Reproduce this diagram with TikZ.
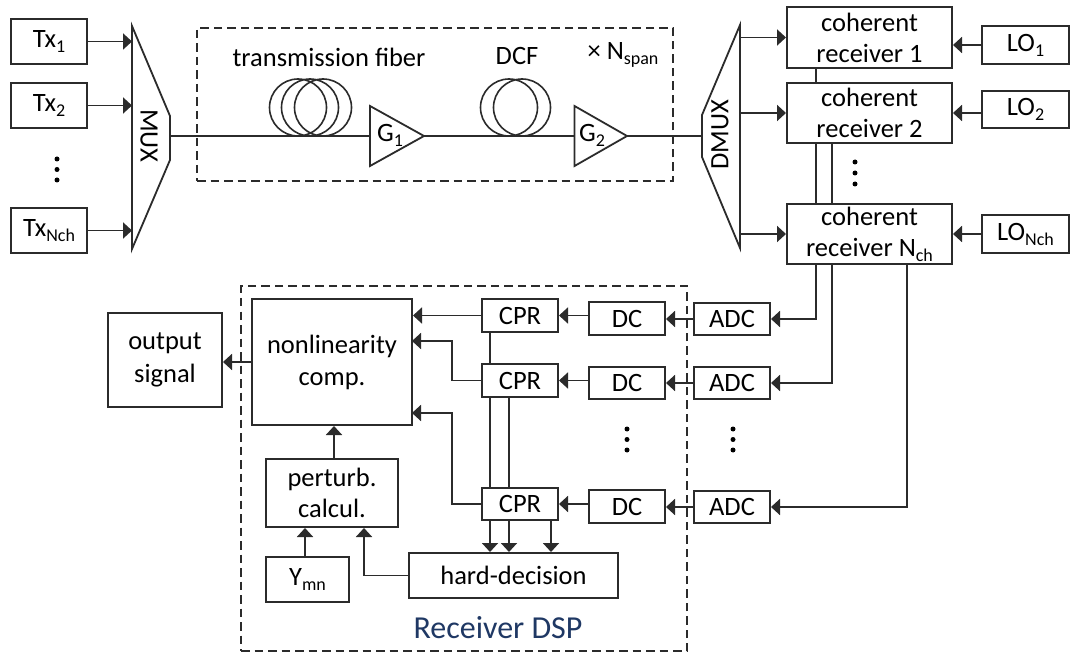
\documentclass[tikz,border=0pt]{standalone}
\usepackage{fontspec}
\setmainfont{Carlito}
\usetikzlibrary{arrows.meta}
\definecolor{ink}{HTML}{2B2B2B}
\definecolor{dspblue}{HTML}{1F3864}
\newcommand\sbs[1]{\raisebox{-5pt}{\fontsize{18}{18}\selectfont #1}}
\newcommand\bx[6]{\node[blockbox,minimum width={(#4-#2)*1pt},minimum height={(#5-#3)*1pt}] (#1) at ({(#2+#4)/2},{(#3+#5)/2}) {#6};}
\newcommand\vdotsat[3]{\fill[black] (#1,#2) circle (2.5) (#1,{(#2+#3)/2}) circle (2.5) (#1,#3) circle (2.5);}
\tikzset{
  blockbox/.style={draw=ink,line width=2pt,inner sep=0pt,align=center,fill=white,
    font=\fontsize{26.5}{31}\selectfont},
  lbl/.style={inner sep=0pt,align=center,font=\fontsize{26.5}{31}\selectfont},
  wire/.style={draw=ink,line width=1.9pt},
  arr/.style={wire,-{Triangle[length=9pt,width=16pt]}},
  shapeline/.style={draw=ink,line width=1.8pt,line join=miter},
  dashbox/.style={draw=ink,line width=1.3pt,dash pattern=on 8.5pt off 5pt},
}
\begin{document}
\begin{tikzpicture}[x=1pt,y=-1pt]
\useasboundingbox[fill=white] (0,0) rectangle (1070,652);
% dashed frames
\node[dashbox,minimum width=476pt,minimum height=153pt,inner sep=0pt] (spanframe) at (435,104.5) {};
\node[dashbox,minimum width=446pt,minimum height=365pt,inner sep=0pt] (dspframe) at (464,468.5) {};
% named anchors
\coordinate (muxW) at (132,136);
\coordinate (muxE) at (170,136);
\coordinate (dmuxW) at (702,136);
\coordinate (dmuxE) at (740,136);
\coordinate (tapA) at (816,0);
\coordinate (tapB) at (832,0);
\coordinate (tapC) at (907,0);
\coordinate (cprA) at (490,0);
\coordinate (cprB) at (509,0);
\coordinate (cprC) at (551,0);
\coordinate (busX) at (452,0);
\coordinate (pertA) at (334,0);
\coordinate (pertB) at (305,0);
\coordinate (pertC) at (364,0);
% transmitters
\bx{tx1}{11}{19}{87}{64}{Tx\sbs{1}}
\bx{tx2}{11}{83}{87}{128}{Tx\sbs{2}}
\bx{txn}{11}{208}{87}{253}{Tx\sbs{Nch}}
\vdotsat{57}{159}{180}
% mux
\draw[shapeline] (132,26) -- (170,116) -- (170,160) -- (132,249) -- cycle;
\node[lbl,rotate=-90] (muxl) at (149,136) {MUX};
% dmux
\draw[shapeline] (740,25) -- (702,115) -- (702,157) -- (740,248) -- cycle;
\node[lbl,rotate=90] (dmuxl) at (720,135) {DMUX};
% amplifiers
\node[inner sep=0pt,minimum size=0pt] (g1in) at (370,136) {};
\node[inner sep=0pt,minimum size=0pt] (g1out) at (424,136) {};
\node[inner sep=0pt,minimum size=0pt] (g2in) at (574.5,136) {};
\node[inner sep=0pt,minimum size=0pt] (g2out) at (627,136) {};
\draw[wire] (muxE) -- (g1in);
\draw[wire] (g1out) -- (g2in);
\draw[wire] (g2out) -- (dmuxW);
\draw[shapeline] (370,106) -- (424,136) -- (370,166) -- cycle;
\draw[shapeline] (574.5,106) -- (627,136) -- (574.5,166) -- cycle;
\node[lbl] (g1) at (390,135) {G\sbs{1}};
\node[lbl] (g2) at (592,135) {G\sbs{2}};
% fibre coils
\draw[draw=ink,line width=1.6pt] (298,107.5) circle (28.5) (310,107.5) circle (28.5) (323,107.5) circle (28.5);
\draw[draw=ink,line width=1.6pt] (509,107.5) circle (28.5) (522,107.5) circle (28.5);
\node[lbl] (fiberl) at (329,57) {transmission fiber};
\node[lbl] (dcfl) at (517,56) {DCF};
\node[lbl] (nspan) at (623,55) {× N\sbs{span}};
% receivers
\bx{rec1}{787}{7}{952}{68}{coherent\\receiver 1}
\bx{rec2}{787}{83}{952}{143}{coherent\\receiver 2}
\bx{rec3}{787}{204}{952}{264}{coherent\\receiver N\sbs{ch}}
\bx{lo1}{982}{26}{1069}{64}{LO\sbs{1}}
\bx{lo2}{982}{91}{1069}{128}{LO\sbs{2}}
\bx{lo3}{982}{215}{1069}{253}{LO\sbs{Nch}}
\vdotsat{855}{162}{184}
% DSP row
\bx{adc1}{694}{303}{770}{335}{ADC}
\bx{adc2}{694}{367}{770}{399}{ADC}
\bx{adc3}{694}{491}{770}{523}{ADC}
\bx{dc1}{589}{302}{665}{335}{DC}
\bx{dc2}{589}{367}{665}{399}{DC}
\bx{dc3}{589}{490}{665}{523}{DC}
\bx{cpr1}{482}{299}{558}{332}{CPR}
\bx{cpr2}{482}{364}{558}{397}{CPR}
\bx{cpr3}{482}{488}{558}{520}{CPR}
\vdotsat{627}{429}{450}
\vdotsat{733}{429}{450}
\bx{hard}{409}{553}{618}{598}{hard-decision}
\bx{nl}{252}{299}{412}{425}{nonlinearity\\[1pt]comp.}
\bx{out}{108}{313}{222}{407}{output\\[2pt]signal}
\bx{pert}{266}{459}{398}{527}{perturb.\\calcul.}
\bx{ymn}{266}{557}{349}{602}{Y\sbs{mn}}
\node[lbl,text=dspblue,font=\fontsize{32}{34}\selectfont] (dspl) at (498,628) {Receiver DSP};
% transmit arrows
\draw[arr] (tx1.east) -- (tx1.east -| muxW);
\draw[arr] (tx2.east) -- (tx2.east -| muxW);
\draw[arr] (txn.east) -- (txn.east -| muxW);
% to receivers
\draw[arr] (rec1.west -| dmuxE) -- (rec1.west);
\draw[arr] (rec2.west -| dmuxE) -- (rec2.west);
\draw[arr] (rec3.west -| dmuxE) -- (rec3.west);
\draw[arr] (lo1.west) -- (lo1.west -| rec1.east);
\draw[arr] (lo2.west |- rec2.east) -- (rec2.east);
\draw[arr] (lo3.west |- rec3.east) -- (rec3.east);
% receiver buses
\draw[wire] (rec1.south -| tapA) -- (rec2.north -| tapA);
\draw[wire] (rec2.south -| tapA) -- (rec3.north -| tapA);
\draw[wire] (rec2.south -| tapB) -- (rec3.north -| tapB);
\draw[arr] (rec3.south -| tapA) |- (adc1.east);
\draw[arr] (rec3.south -| tapB) |- (adc2.east);
\draw[arr] (rec3.south -| tapC) |- (adc3.east);
% chain
\draw[arr] (adc1.west) -- (dc1.east |- adc1.west);
\draw[arr] (adc2.west) -- (dc2.east);
\draw[arr] (adc3.west) -- (dc3.east |- adc3.west);
\draw[arr] (dc1.west |- cpr1.east) -- (cpr1.east);
\draw[arr] (dc2.west |- cpr2.east) -- (cpr2.east);
\draw[arr] (dc3.west |- cpr3.east) -- (cpr3.east);
% CPR verticals
\draw[wire] (cpr1.south -| cprA) -- (cpr2.north -| cprA);
\draw[wire] (cpr2.south -| cprA) -- (cpr3.north -| cprA);
\draw[wire] (cpr2.south -| cprB) -- (cpr3.north -| cprB);
\draw[arr] (cpr3.south -| cprA) -- (hard.north -| cprA);
\draw[arr] (cpr3.south -| cprB) -- (hard.north -| cprB);
\draw[arr] (cpr3.south -| cprC) -- (hard.north -| cprC);
% to nonlinearity
\coordinate (nlA) at (412,341);
\coordinate (nlB) at (412,413);
\draw[arr] (cpr1.west) -- (nl.east |- cpr1.west);
\draw[arr] (cpr2.west) -| (busX |- nlA) -- (nlA);
\draw[arr] (cpr3.west) -| (busX |- nlB) -- (nlB);
\draw[arr] (nl.west) -- (out.east |- nl.west);
\draw[arr] (pert.north -| pertA) -- (nl.south -| pertA);
\draw[arr] (ymn.north -| pertB) -- (pert.south -| pertB);
\draw[arr] (hard.west) -| (pert.south -| pertC);
\end{tikzpicture}
\end{document}
